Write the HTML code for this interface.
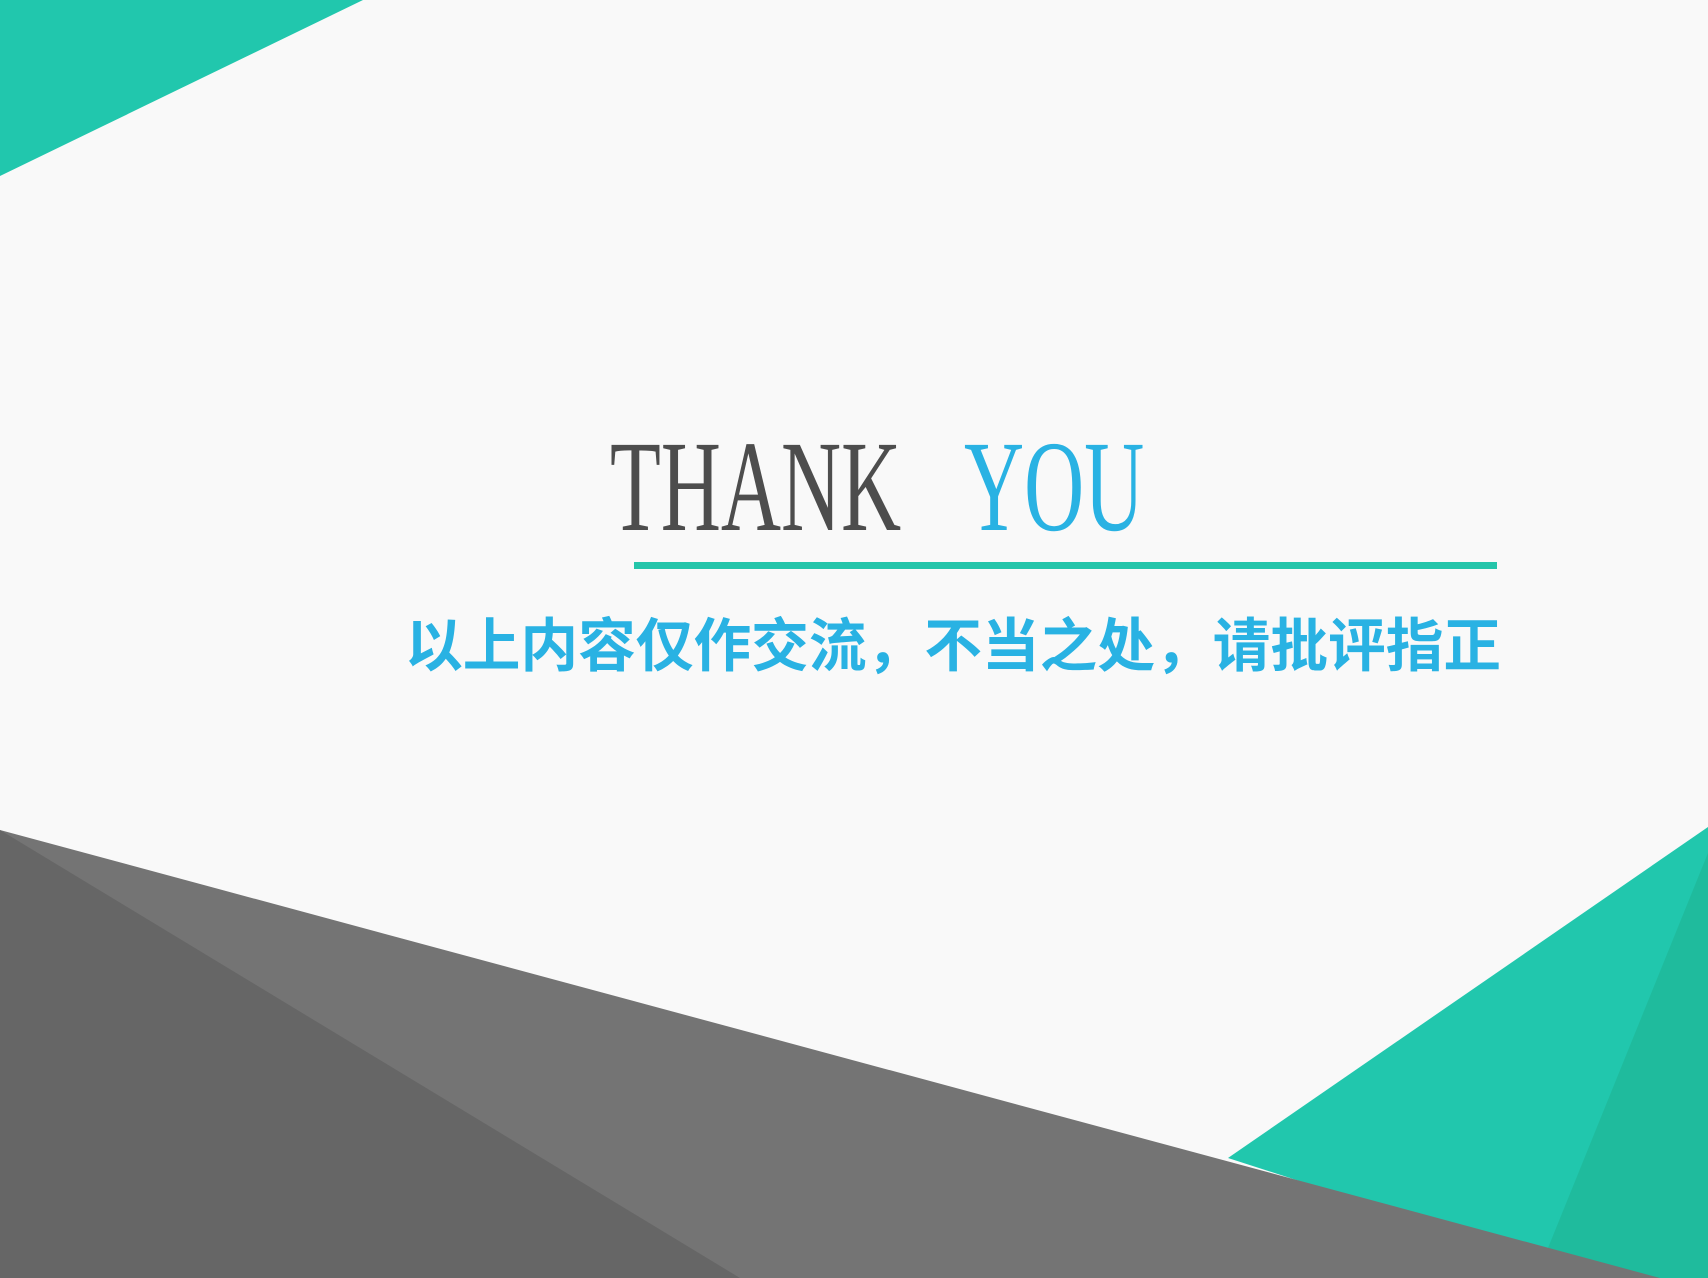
<!DOCTYPE html>
<html><head><meta charset="utf-8">
<style>
html,body{margin:0;padding:0;background:#f9f9f9;}
#slide{position:relative;width:1708px;height:1278px;overflow:hidden;background:#f9f9f9;}
svg{position:absolute;left:0;top:0;}
.t{position:absolute;font-family:"Liberation Serif",serif;font-size:130px;line-height:1;white-space:nowrap;transform-origin:0 0;transform:scaleX(0.64);}
#sub{position:absolute;left:405px;top:619px;font-family:"Liberation Sans","Noto Sans CJK SC",sans-serif;font-size:57.7px;font-weight:bold;line-height:1;color:#29b2e3;white-space:nowrap;}
</style></head>
<body>
<div id="slide">
<svg width="1708" height="1278">
  <polygon points="0,0 363,0 0,176" fill="#21c7ad"/>
  <polygon points="1228,1158 1708,827 1708,1278 1600,1278" fill="#21c7ad"/>
  <polygon points="1708,853 1548,1248 1640,1278 1708,1278" fill="#1fbb9d"/>
  <polygon points="0,830 1660,1278 0,1278" fill="#747474"/>
  <polygon points="0,830 740,1278 0,1278" fill="#666666"/>
  <rect x="634" y="562" width="863" height="7" fill="#24c5aa"/>
</svg>
<div class="t" style="left:610px;top:422px;color:#4d4d4d;">THANK</div>
<div class="t" style="left:964px;top:422px;color:#29b2e3;">YOU</div>
<div id="sub">以上内容仅作交流，不当之处，请批评指正</div>
</div>
</body></html>
